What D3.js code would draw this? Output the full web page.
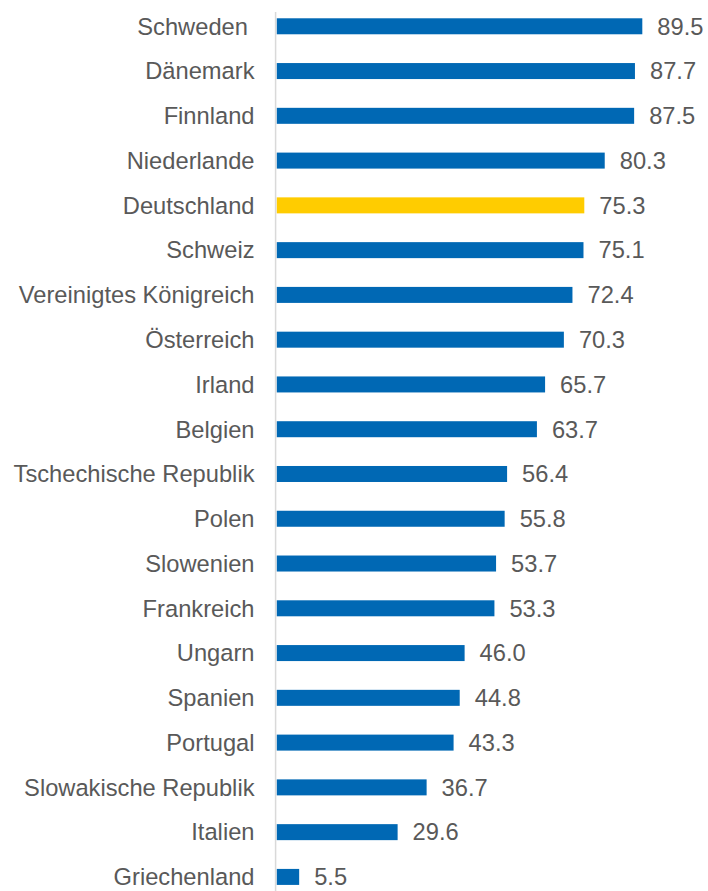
<!DOCTYPE html>
<head>
  <meta charset="utf-8">
  <script src="https://cdn.jsdelivr.net/npm/d3@7"></script>
  <style>
    body { margin: 0; background: #fff; }
    text { font-family: "Liberation Sans", Arial, sans-serif; fill: #595959; white-space: pre; }
  </style>
</head>
<body>
  <div id="chartDiv"></div>
  <script>

    var countries = ["Schweden ", "Dänemark", "Finnland", "Niederlande", "Deutschland", "Schweiz",
      "Vereinigtes Königreich", "Österreich", "Irland", "Belgien", "Tschechische Republik", "Polen",
      "Slowenien", "Frankreich", "Ungarn", "Spanien", "Portugal", "Slowakische Republik", "Italien", "Griechenland"];
    var values = [89.5, 87.7, 87.5, 80.3, 75.3, 75.1, 72.4, 70.3, 65.7, 63.7, 56.4, 55.8,
      53.7, 53.3, 46.0, 44.8, 43.3, 36.7, 29.6, 5.5];
    var highlight = "Deutschland";

    var width = 708, height = 891;
    var barHeight = 16;

    var svg = d3.select("#chartDiv").append("svg")
        .attr("width", width)
        .attr("height", height);

    var x = d3.scaleLinear()
        .domain([0, 100])
        .range([276.7, 276.7 + 408.5]);

    var y = d3.scaleBand()
        .domain(countries)
        .range([3.9, 899.3]);

    var rows = countries.map(function(c, i) { return {name: c, value: values[i]}; });

    // bars
    svg.selectAll("rect.bar")
        .data(rows)
      .enter().append("rect")
        .attr("class", "bar")
        .attr("x", x(0))
        .attr("y", function(d) { return y(d.name) + y.bandwidth() / 2 - barHeight / 2; })
        .attr("width", function(d) { return x(d.value) - x(0); })
        .attr("height", barHeight)
        .style("fill", function(d) { return d.name == highlight ? "#ffcc00" : "#0068b4"; });

    // axis line
    svg.append("line")
        .attr("x1", 275.6).attr("x2", 275.6)
        .attr("y1", 12).attr("y2", height)
        .style("stroke", "#d9d9d9")
        .style("stroke-width", 1.5);

    // category labels
    svg.selectAll("text.cat")
        .data(rows)
      .enter().append("text")
        .attr("class", "cat")
        .attr("x", 254.5)
        .attr("y", function(d) { return y(d.name) + y.bandwidth() / 2; })
        .attr("dy", "0.35em")
        .attr("text-anchor", "end")
        .style("font-size", "23.7px")
        .text(function(d) { return d.name; });

    // value labels
    svg.selectAll("text.val")
        .data(rows)
      .enter().append("text")
        .attr("class", "val")
        .attr("x", function(d) { return x(d.value) + 15; })
        .attr("y", function(d) { return y(d.name) + y.bandwidth() / 2; })
        .attr("dy", "0.35em")
        .style("font-size", "23.7px")
        .text(function(d) { return d.value.toFixed(1); });

  </script>
</body>
